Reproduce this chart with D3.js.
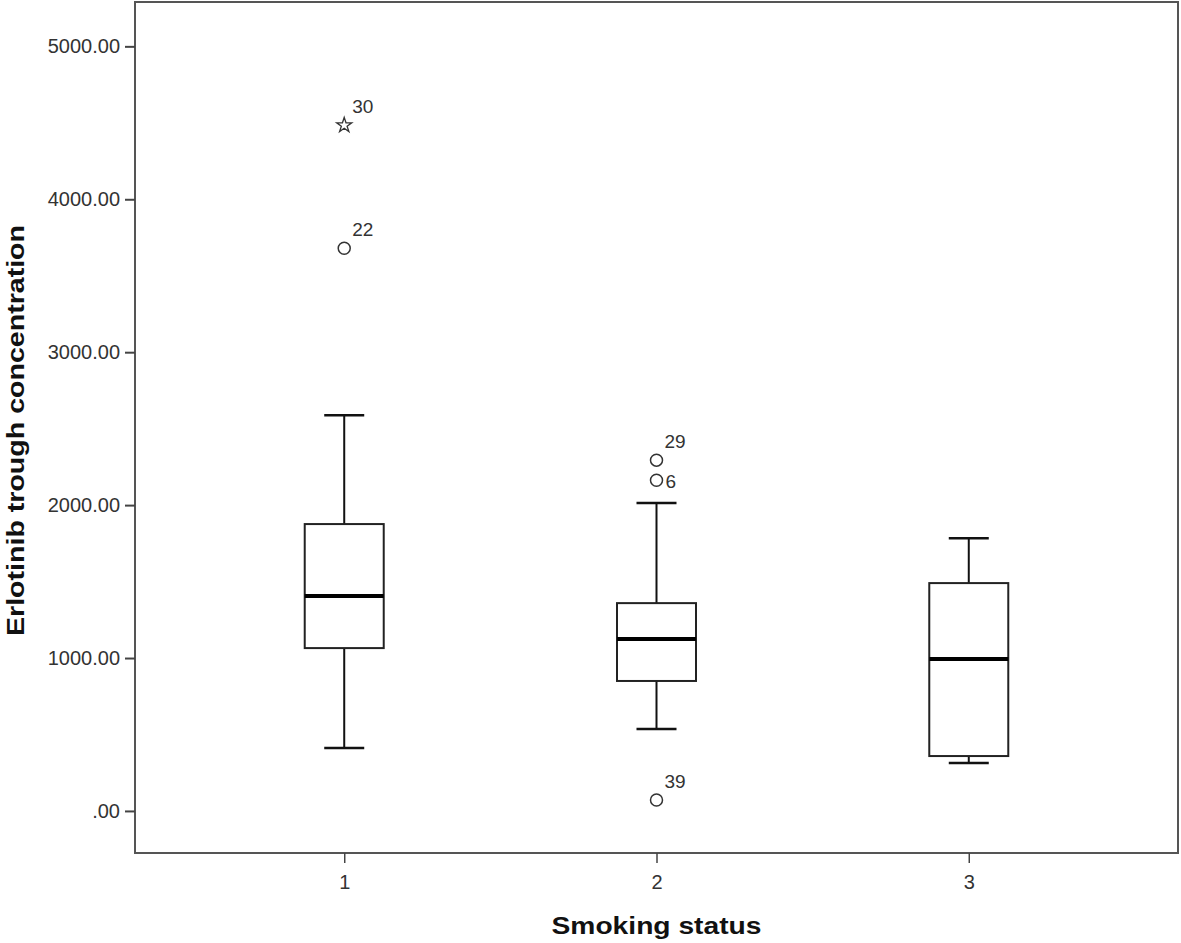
<!DOCTYPE html>
<html lang="en">
  <head>
    <meta charset="UTF-8" />
    <title>Erlotinib trough concentration by smoking status</title>
    <style>
      body { margin: 0; background: #fff; }
      text { font-family: Arial, "Liberation Sans", sans-serif; }
    </style>
  </head>
  <body>
    <svg id="svg" width="1181" height="943"></svg>

    <script src="https://d3js.org/d3.v7.min.js"></script>
    <script>
      // smoking status groups and their box statistics
      const groups = ["1", "2", "3"];
      const whiskerLow = [412, 536, 314];
      const q1 = [1065, 850, 359];
      const medians = [1405, 1124, 993];
      const q3 = [1876, 1359, 1490];
      const whiskerHigh = [2588, 2013, 1784];

      // outliers: case number, group, value, kind
      const outlierGroups = ["1", "1", "2", "2", "2"];
      const outlierValues = [4484, 3680, 2294, 2163, 72];
      const outlierCases = ["30", "22", "29", "6", "39"];
      const outlierKinds = ["extreme", "mild", "mild", "mild", "mild"];
      const outlierLabelSide = ["above", "above", "above", "right", "above"];

      const yTicks = [0, 1000, 2000, 3000, 4000, 5000];

      const plotL = 135, plotR = 1178, plotT = 2, plotB = 853;
      const svg = d3.select("#svg");

      const x = d3.scalePoint().domain(groups).range([plotL, plotR]).padding(0.67);
      const y = d3.scaleLinear().domain([-275, 5290]).range([plotB, plotT]);
      const boxW = 79, capW = 40;

      const fmt = (d) => (d === 0 ? ".00" : d3.format(".2f")(d));

      // frame
      svg.append("rect")
        .attr("x", plotL).attr("y", plotT)
        .attr("width", plotR - plotL).attr("height", plotB - plotT)
        .attr("fill", "none").attr("stroke", "#555").attr("stroke-width", 2);

      // y axis
      const yAxis = svg.append("g")
        .attr("transform", `translate(${plotL},0)`)
        .call(d3.axisLeft(y).tickValues(yTicks).tickFormat(fmt).tickSize(10).tickPadding(5));
      yAxis.select(".domain").remove();
      yAxis.selectAll("line").attr("stroke", "#444").attr("stroke-width", 2);
      yAxis.selectAll("text").attr("font-size", 20).attr("fill", "#333")
        .attr("font-family", "Arial, 'Liberation Sans', sans-serif");

      // x axis
      const xAxis = svg.append("g")
        .attr("transform", `translate(0,${plotB})`)
        .call(d3.axisBottom(x).tickSize(10).tickPadding(12));
      xAxis.select(".domain").remove();
      xAxis.selectAll("line").attr("stroke", "#444").attr("stroke-width", 1.5);
      xAxis.selectAll("text").attr("font-size", 20).attr("fill", "#333")
        .attr("font-family", "Arial, 'Liberation Sans', sans-serif");

      // axis titles
      svg.append("text")
        .attr("x", x("2")).attr("y", 934)
        .attr("text-anchor", "middle")
        .attr("font-size", 24).attr("font-weight", "bold").attr("fill", "#111")
        .attr("textLength", 210).attr("lengthAdjust", "spacingAndGlyphs")
        .text("Smoking status");

      svg.append("text")
        .attr("transform", `translate(24,${(225 + 636) / 2}) rotate(-90)`)
        .attr("text-anchor", "middle")
        .attr("font-size", 24).attr("font-weight", "bold").attr("fill", "#111")
        .attr("textLength", 411).attr("lengthAdjust", "spacingAndGlyphs")
        .text("Erlotinib trough concentration");

      // boxes
      const boxes = groups.map((g, i) => ({
        g, lo: whiskerLow[i], q1: q1[i], med: medians[i], q3: q3[i], hi: whiskerHigh[i]
      }));

      const bx = svg.append("g").selectAll("g").data(boxes).enter().append("g");

      bx.append("line")
        .attr("x1", (d) => x(d.g)).attr("x2", (d) => x(d.g))
        .attr("y1", (d) => y(d.hi)).attr("y2", (d) => y(d.lo))
        .attr("stroke", "#111").attr("stroke-width", 2);
      bx.append("line")
        .attr("x1", (d) => x(d.g) - capW / 2).attr("x2", (d) => x(d.g) + capW / 2)
        .attr("y1", (d) => y(d.hi)).attr("y2", (d) => y(d.hi))
        .attr("stroke", "#111").attr("stroke-width", 2.5);
      bx.append("line")
        .attr("x1", (d) => x(d.g) - capW / 2).attr("x2", (d) => x(d.g) + capW / 2)
        .attr("y1", (d) => y(d.lo)).attr("y2", (d) => y(d.lo))
        .attr("stroke", "#111").attr("stroke-width", 2.5);
      bx.append("rect")
        .attr("x", (d) => x(d.g) - boxW / 2).attr("width", boxW)
        .attr("y", (d) => y(d.q3)).attr("height", (d) => y(d.q1) - y(d.q3))
        .attr("fill", "#fff").attr("stroke", "#222").attr("stroke-width", 2);
      bx.append("line")
        .attr("x1", (d) => x(d.g) - boxW / 2).attr("x2", (d) => x(d.g) + boxW / 2)
        .attr("y1", (d) => y(d.med)).attr("y2", (d) => y(d.med))
        .attr("stroke", "#000").attr("stroke-width", 4);

      // outliers
      const outs = outlierValues.map((v, i) => ({
        g: outlierGroups[i], v, label: outlierCases[i], kind: outlierKinds[i], side: outlierLabelSide[i]
      }));

      const og = svg.append("g").selectAll("g").data(outs).enter().append("g")
        .attr("transform", (d) => `translate(${x(d.g)},${y(d.v)})`);

      og.filter((d) => d.kind === "mild").append("circle")
        .attr("r", 6).attr("fill", "#fff").attr("stroke", "#333").attr("stroke-width", 1.5);
      og.filter((d) => d.kind === "extreme").append("path")
        .attr("d", d3.symbol().type(d3.symbolStar).size(70))
        .attr("fill", "#fff").attr("stroke", "#333").attr("stroke-width", 1.3);

      og.append("text")
        .attr("x", (d) => (d.side === "right" ? 9 : 8))
        .attr("y", (d) => (d.side === "right" ? 8 : -12))
        .attr("font-size", 19).attr("fill", "#333")
        .text((d) => d.label);
    </script>
  </body>
</html>
